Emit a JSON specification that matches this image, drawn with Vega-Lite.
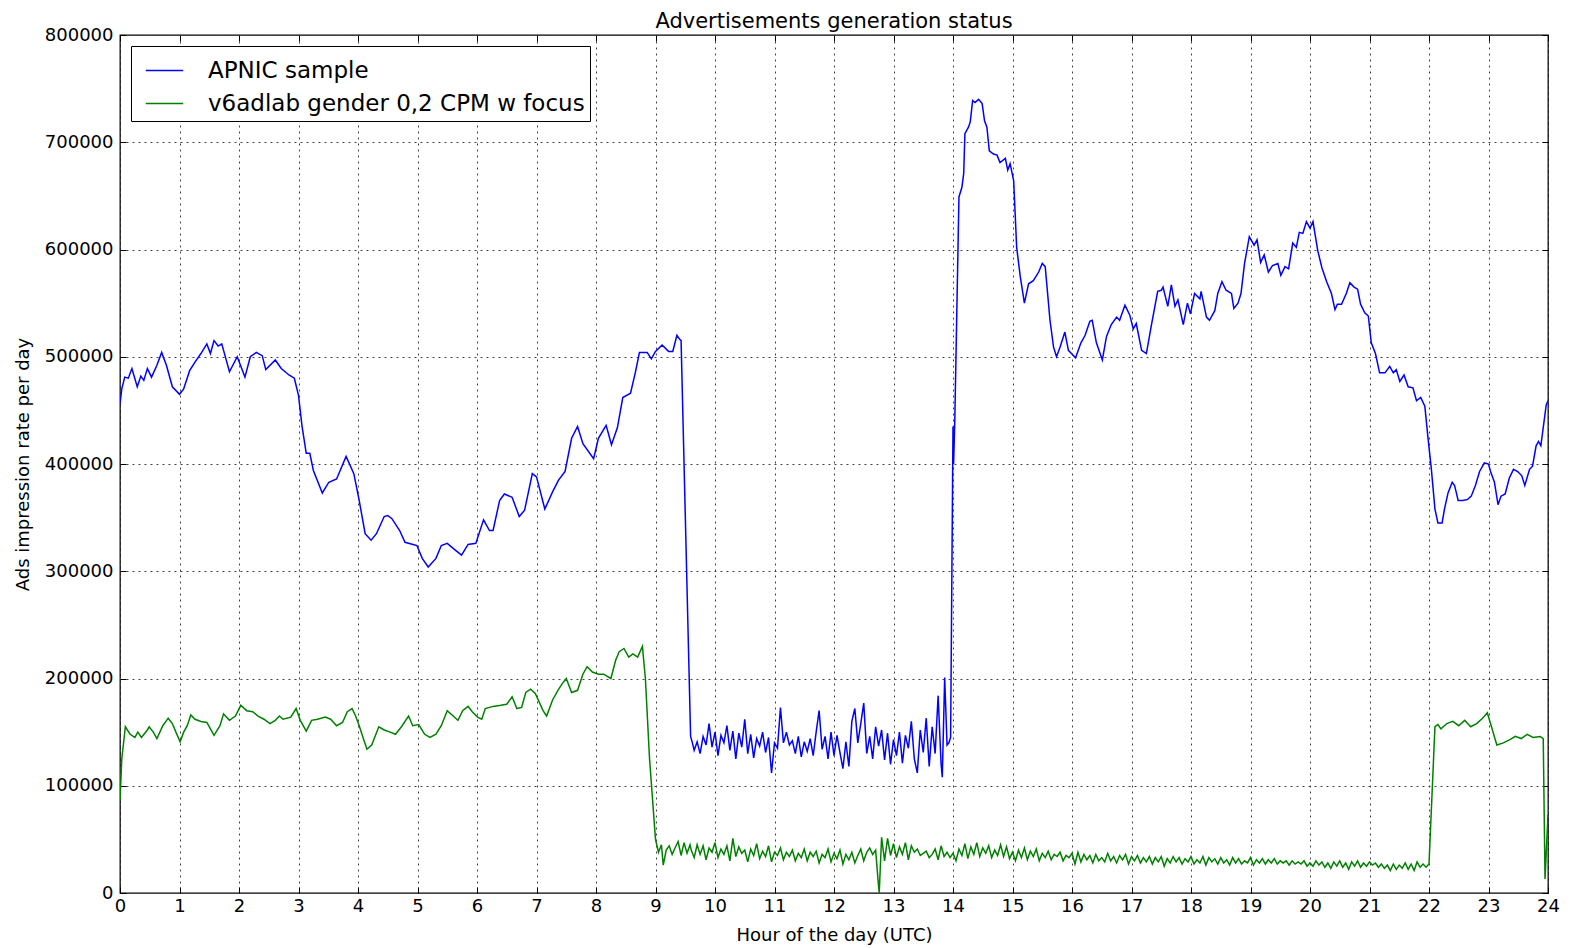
{
"$schema": "https://vega.github.io/schema/vega-lite/v6.json",
"autosize": {"type": "none"},
"width": 1428,
"height": 858,
"padding": {"left": 120, "top": 35, "right": 22, "bottom": 55},
"background": "white",
"title": {"text": "Advertisements generation status", "font": "DejaVu Sans", "fontSize": 21, "fontWeight": "normal", "color": "black", "offset": -6},
"config": {
  "font": "DejaVu Sans",
  "view": {"stroke": "black", "strokeWidth": 1.3},
  "axis": {"labelFont": "DejaVu Sans", "labelFontSize": 18, "labelColor": "black", "titleFont": "DejaVu Sans", "titleFontSize": 18, "titleFontWeight": "normal", "titleColor": "black", "domain": false, "grid": true, "gridColor": "#444444", "gridDash": [2, 4], "gridWidth": 1, "tickColor": "black", "tickSize": -6, "tickWidth": 1, "labelOverlap": false, "labelFlush": false}
},
"resolve": {"axis": {"x": "independent", "y": "independent"}},
"datasets": {
"blue": [
{"h":0.00,"v":456000},{"h":0.03,"v":470000},{"h":0.08,"v":481000},{"h":0.14,"v":480000},{"h":0.20,"v":489000},{"h":0.29,"v":472000},{"h":0.35,"v":482000},{"h":0.40,"v":478000},{"h":0.46,"v":489000},{"h":0.53,"v":481000},{"h":0.62,"v":492000},{"h":0.70,"v":504000},{"h":0.78,"v":492000},{"h":0.88,"v":472000},{"h":1.00,"v":465000},{"h":1.07,"v":470000},{"h":1.17,"v":487000},{"h":1.26,"v":495000},{"h":1.36,"v":503000},{"h":1.46,"v":512000},{"h":1.52,"v":503000},{"h":1.58,"v":515000},{"h":1.65,"v":510000},{"h":1.71,"v":512000},{"h":1.84,"v":486000},{"h":1.97,"v":500000},{"h":2.10,"v":481000},{"h":2.19,"v":500000},{"h":2.29,"v":504000},{"h":2.39,"v":501000},{"h":2.45,"v":488000},{"h":2.61,"v":497000},{"h":2.71,"v":489000},{"h":2.84,"v":483000},{"h":2.93,"v":480000},{"h":3.00,"v":464000},{"h":3.06,"v":435000},{"h":3.13,"v":410000},{"h":3.19,"v":410000},{"h":3.25,"v":394000},{"h":3.40,"v":373000},{"h":3.51,"v":383000},{"h":3.64,"v":386000},{"h":3.80,"v":407000},{"h":3.93,"v":391000},{"h":4.02,"v":366000},{"h":4.12,"v":335000},{"h":4.22,"v":329000},{"h":4.31,"v":335000},{"h":4.44,"v":351000},{"h":4.50,"v":352000},{"h":4.57,"v":349000},{"h":4.70,"v":338000},{"h":4.79,"v":327000},{"h":4.99,"v":324000},{"h":5.08,"v":312000},{"h":5.18,"v":304000},{"h":5.31,"v":312000},{"h":5.40,"v":324000},{"h":5.50,"v":326000},{"h":5.63,"v":320000},{"h":5.74,"v":315000},{"h":5.85,"v":325000},{"h":5.98,"v":326000},{"h":6.11,"v":348000},{"h":6.21,"v":338000},{"h":6.27,"v":338000},{"h":6.38,"v":366000},{"h":6.46,"v":372000},{"h":6.59,"v":369000},{"h":6.71,"v":351000},{"h":6.80,"v":357000},{"h":6.93,"v":391000},{"h":7.00,"v":388000},{"h":7.14,"v":358000},{"h":7.27,"v":374000},{"h":7.37,"v":385000},{"h":7.48,"v":393000},{"h":7.59,"v":424000},{"h":7.69,"v":435000},{"h":7.78,"v":419000},{"h":7.96,"v":405000},{"h":8.04,"v":424000},{"h":8.17,"v":436000},{"h":8.26,"v":418000},{"h":8.36,"v":434000},{"h":8.45,"v":462000},{"h":8.58,"v":466000},{"h":8.66,"v":485000},{"h":8.73,"v":504000},{"h":8.86,"v":504000},{"h":8.93,"v":498000},{"h":9.00,"v":505000},{"h":9.11,"v":511000},{"h":9.22,"v":505000},{"h":9.29,"v":505000},{"h":9.36,"v":520000},{"h":9.41,"v":516000},{"h":9.43,"v":515000},
{"h":9.59,"v":146000},{"h":9.62,"v":140000},{"h":9.65,"v":133000},{"h":9.70,"v":141000},{"h":9.75,"v":130000},{"h":9.80,"v":146000},{"h":9.85,"v":138000},{"h":9.90,"v":158000},{"h":9.95,"v":136000},{"h":10.00,"v":150000},{"h":10.05,"v":128000},{"h":10.10,"v":147000},{"h":10.15,"v":140000},{"h":10.20,"v":156000},{"h":10.25,"v":133000},{"h":10.30,"v":151000},{"h":10.35,"v":125000},{"h":10.40,"v":149000},{"h":10.45,"v":136000},{"h":10.50,"v":162000},{"h":10.55,"v":130000},{"h":10.60,"v":148000},{"h":10.65,"v":126000},{"h":10.70,"v":144000},{"h":10.75,"v":137000},{"h":10.80,"v":150000},{"h":10.85,"v":131000},{"h":10.90,"v":145000},{"h":10.95,"v":112000},{"h":11.00,"v":140000},{"h":11.05,"v":135000},{"h":11.10,"v":173000},{"h":11.15,"v":140000},{"h":11.20,"v":150000},{"h":11.25,"v":138000},{"h":11.30,"v":142000},{"h":11.35,"v":130000},{"h":11.40,"v":146000},{"h":11.45,"v":127000},{"h":11.50,"v":141000},{"h":11.55,"v":132000},{"h":11.60,"v":144000},{"h":11.65,"v":128000},{"h":11.70,"v":150000},{"h":11.75,"v":170000},{"h":11.80,"v":134000},{"h":11.85,"v":146000},{"h":11.90,"v":125000},{"h":11.95,"v":150000},{"h":12.00,"v":128000},{"h":12.05,"v":147000},{"h":12.10,"v":131000},{"h":12.15,"v":116000},{"h":12.20,"v":141000},{"h":12.25,"v":118000},{"h":12.30,"v":160000},{"h":12.35,"v":172000},{"h":12.40,"v":140000},{"h":12.45,"v":158000},{"h":12.50,"v":177000},{"h":12.55,"v":130000},{"h":12.60,"v":146000},{"h":12.65,"v":125000},{"h":12.70,"v":155000},{"h":12.75,"v":137000},{"h":12.80,"v":152000},{"h":12.85,"v":124000},{"h":12.90,"v":149000},{"h":12.95,"v":120000},{"h":13.00,"v":143000},{"h":13.05,"v":128000},{"h":13.10,"v":150000},{"h":13.15,"v":121000},{"h":13.20,"v":147000},{"h":13.25,"v":135000},{"h":13.30,"v":160000},{"h":13.35,"v":125000},{"h":13.40,"v":112000},{"h":13.45,"v":152000},{"h":13.50,"v":131000},{"h":13.55,"v":163000},{"h":13.60,"v":118000},{"h":13.65,"v":155000},{"h":13.70,"v":130000},{"h":13.75,"v":184000},{"h":13.80,"v":120000},{"h":13.82,"v":108000},{"h":13.86,"v":201000},{"h":13.90,"v":138000},{"h":13.93,"v":140000},{"h":13.96,"v":145000},
{"h":14.00,"v":435000},{"h":14.01,"v":400000},{"h":14.03,"v":440000},{"h":14.10,"v":649000},{"h":14.15,"v":658000},{"h":14.18,"v":671000},{"h":14.20,"v":708000},{"h":14.26,"v":714000},{"h":14.29,"v":719000},{"h":14.33,"v":739000},{"h":14.37,"v":737000},{"h":14.43,"v":740000},{"h":14.49,"v":736000},{"h":14.53,"v":720000},{"h":14.57,"v":714000},{"h":14.61,"v":692000},{"h":14.68,"v":689000},{"h":14.74,"v":688000},{"h":14.79,"v":681000},{"h":14.88,"v":685000},{"h":14.92,"v":674000},{"h":14.96,"v":680000},{"h":15.02,"v":664000},{"h":15.07,"v":602000},{"h":15.13,"v":575000},{"h":15.20,"v":550000},{"h":15.27,"v":568000},{"h":15.35,"v":571000},{"h":15.44,"v":579000},{"h":15.50,"v":587000},{"h":15.55,"v":584000},{"h":15.63,"v":534000},{"h":15.69,"v":509000},{"h":15.74,"v":500000},{"h":15.80,"v":509000},{"h":15.88,"v":523000},{"h":15.94,"v":506000},{"h":15.99,"v":503000},{"h":16.06,"v":499000},{"h":16.15,"v":513000},{"h":16.22,"v":520000},{"h":16.30,"v":533000},{"h":16.34,"v":534000},{"h":16.41,"v":513000},{"h":16.51,"v":497000},{"h":16.58,"v":519000},{"h":16.66,"v":530000},{"h":16.75,"v":537000},{"h":16.80,"v":534000},{"h":16.89,"v":548000},{"h":16.97,"v":539000},{"h":17.03,"v":526000},{"h":17.08,"v":531000},{"h":17.17,"v":506000},{"h":17.25,"v":503000},{"h":17.33,"v":528000},{"h":17.44,"v":561000},{"h":17.50,"v":562000},{"h":17.53,"v":565000},{"h":17.61,"v":547000},{"h":17.67,"v":567000},{"h":17.73,"v":547000},{"h":17.78,"v":553000},{"h":17.87,"v":530000},{"h":17.94,"v":550000},{"h":17.99,"v":540000},{"h":18.06,"v":559000},{"h":18.15,"v":554000},{"h":18.17,"v":561000},{"h":18.26,"v":537000},{"h":18.31,"v":534000},{"h":18.40,"v":543000},{"h":18.45,"v":559000},{"h":18.52,"v":570000},{"h":18.59,"v":562000},{"h":18.68,"v":559000},{"h":18.72,"v":545000},{"h":18.79,"v":550000},{"h":18.84,"v":559000},{"h":18.90,"v":587000},{"h":18.98,"v":612000},{"h":19.06,"v":604000},{"h":19.11,"v":609000},{"h":19.17,"v":588000},{"h":19.23,"v":595000},{"h":19.30,"v":579000},{"h":19.37,"v":585000},{"h":19.46,"v":587000},{"h":19.51,"v":576000},{"h":19.58,"v":584000},{"h":19.64,"v":582000},{"h":19.71,"v":606000},{"h":19.77,"v":602000},{"h":19.82,"v":616000},{"h":19.88,"v":615000},{"h":19.94,"v":626000},{"h":20.00,"v":620000},{"h":20.05,"v":626000},{"h":20.13,"v":599000},{"h":20.20,"v":583000},{"h":20.28,"v":570000},{"h":20.36,"v":559000},{"h":20.42,"v":544000},{"h":20.46,"v":549000},{"h":20.53,"v":549000},{"h":20.61,"v":559000},{"h":20.67,"v":569000},{"h":20.74,"v":565000},{"h":20.80,"v":563000},{"h":20.85,"v":549000},{"h":20.92,"v":541000},{"h":20.98,"v":538000},{"h":21.03,"v":513000},{"h":21.10,"v":503000},{"h":21.17,"v":485000},{"h":21.26,"v":485000},{"h":21.34,"v":491000},{"h":21.40,"v":485000},{"h":21.45,"v":488000},{"h":21.51,"v":477000},{"h":21.58,"v":483000},{"h":21.65,"v":472000},{"h":21.73,"v":471000},{"h":21.79,"v":459000},{"h":21.86,"v":462000},{"h":21.93,"v":454000},{"h":21.98,"v":426000},{"h":22.04,"v":395000},{"h":22.10,"v":358000},{"h":22.15,"v":345000},{"h":22.22,"v":345000},{"h":22.26,"v":358000},{"h":22.32,"v":373000},{"h":22.39,"v":383000},{"h":22.43,"v":380000},{"h":22.49,"v":366000},{"h":22.57,"v":366000},{"h":22.65,"v":367000},{"h":22.71,"v":370000},{"h":22.78,"v":380000},{"h":22.85,"v":393000},{"h":22.93,"v":401000},{"h":23.00,"v":400000},{"h":23.04,"v":392000},{"h":23.10,"v":383000},{"h":23.16,"v":362000},{"h":23.21,"v":370000},{"h":23.28,"v":372000},{"h":23.35,"v":387000},{"h":23.42,"v":395000},{"h":23.49,"v":393000},{"h":23.56,"v":389000},{"h":23.61,"v":380000},{"h":23.69,"v":395000},{"h":23.74,"v":398000},{"h":23.80,"v":417000},{"h":23.84,"v":421000},{"h":23.88,"v":417000},{"h":23.97,"v":455000},{"h":24.00,"v":459000}
],
"green": [
{"h":0.00,"v":86000},{"h":0.03,"v":125000},{"h":0.09,"v":155000},{"h":0.17,"v":148000},{"h":0.25,"v":145000},{"h":0.30,"v":150000},{"h":0.36,"v":145000},{"h":0.46,"v":152000},{"h":0.49,"v":155000},{"h":0.56,"v":150000},{"h":0.62,"v":144000},{"h":0.72,"v":156000},{"h":0.81,"v":163000},{"h":0.88,"v":158000},{"h":0.94,"v":150000},{"h":1.01,"v":141000},{"h":1.07,"v":150000},{"h":1.13,"v":156000},{"h":1.19,"v":166000},{"h":1.26,"v":162000},{"h":1.36,"v":160000},{"h":1.46,"v":159000},{"h":1.52,"v":153000},{"h":1.58,"v":147000},{"h":1.68,"v":156000},{"h":1.74,"v":167000},{"h":1.84,"v":161000},{"h":1.94,"v":165000},{"h":2.03,"v":175000},{"h":2.13,"v":170000},{"h":2.23,"v":169000},{"h":2.32,"v":165000},{"h":2.42,"v":162000},{"h":2.52,"v":158000},{"h":2.61,"v":161000},{"h":2.68,"v":165000},{"h":2.74,"v":162000},{"h":2.87,"v":164000},{"h":2.96,"v":172000},{"h":3.03,"v":161000},{"h":3.13,"v":151000},{"h":3.22,"v":161000},{"h":3.32,"v":162000},{"h":3.45,"v":164000},{"h":3.54,"v":162000},{"h":3.64,"v":156000},{"h":3.74,"v":159000},{"h":3.82,"v":169000},{"h":3.90,"v":172000},{"h":3.96,"v":165000},{"h":4.02,"v":156000},{"h":4.09,"v":144000},{"h":4.15,"v":134000},{"h":4.23,"v":138000},{"h":4.35,"v":155000},{"h":4.44,"v":152000},{"h":4.54,"v":150000},{"h":4.63,"v":148000},{"h":4.73,"v":155000},{"h":4.85,"v":165000},{"h":4.92,"v":156000},{"h":5.02,"v":157000},{"h":5.12,"v":148000},{"h":5.21,"v":145000},{"h":5.31,"v":148000},{"h":5.40,"v":156000},{"h":5.50,"v":170000},{"h":5.60,"v":165000},{"h":5.68,"v":161000},{"h":5.76,"v":170000},{"h":5.85,"v":174000},{"h":5.92,"v":169000},{"h":6.01,"v":164000},{"h":6.08,"v":162000},{"h":6.14,"v":172000},{"h":6.27,"v":174000},{"h":6.40,"v":175000},{"h":6.50,"v":176000},{"h":6.59,"v":183000},{"h":6.67,"v":172000},{"h":6.75,"v":173000},{"h":6.82,"v":187000},{"h":6.90,"v":190000},{"h":6.98,"v":186000},{"h":7.11,"v":170000},{"h":7.17,"v":165000},{"h":7.27,"v":180000},{"h":7.36,"v":189000},{"h":7.43,"v":195000},{"h":7.50,"v":200000},{"h":7.59,"v":187000},{"h":7.69,"v":189000},{"h":7.78,"v":204000},{"h":7.85,"v":211000},{"h":7.94,"v":206000},{"h":8.04,"v":204000},{"h":8.13,"v":204000},{"h":8.25,"v":200000},{"h":8.33,"v":217000},{"h":8.39,"v":225000},{"h":8.47,"v":228000},{"h":8.55,"v":220000},{"h":8.62,"v":223000},{"h":8.70,"v":220000},{"h":8.78,"v":230000},{"h":8.83,"v":200000},{"h":8.90,"v":125000},{"h":9.00,"v":50000},{"h":9.05,"v":38000},{"h":9.10,"v":45000},{"h":9.13,"v":26000},{"h":9.18,"v":40000},{"h":9.23,"v":44000},{"h":9.28,"v":36000},{"h":9.32,"v":41000},{"h":9.38,"v":48000},{"h":9.43,"v":35000},{"h":9.48,"v":47000},{"h":9.53,"v":37000},{"h":9.58,"v":45000},
{"h":9.60,"v":40000},{"h":9.65,"v":33000},{"h":9.70,"v":45000},{"h":9.75,"v":36000},{"h":9.80,"v":44000},{"h":9.85,"v":31000},{"h":9.90,"v":42000},{"h":9.95,"v":38000},{"h":10.00,"v":47000},{"h":10.05,"v":33000},{"h":10.10,"v":41000},{"h":10.15,"v":36000},{"h":10.20,"v":44000},{"h":10.25,"v":30000},{"h":10.30,"v":51000},{"h":10.35,"v":34000},{"h":10.40,"v":43000},{"h":10.45,"v":37000},{"h":10.50,"v":40000},{"h":10.55,"v":29000},{"h":10.60,"v":41000},{"h":10.65,"v":35000},{"h":10.70,"v":46000},{"h":10.75,"v":32000},{"h":10.80,"v":39000},{"h":10.85,"v":34000},{"h":10.90,"v":44000},{"h":10.95,"v":29000},{"h":11.00,"v":38000},{"h":11.05,"v":35000},{"h":11.10,"v":42000},{"h":11.15,"v":31000},{"h":11.20,"v":38000},{"h":11.25,"v":34000},{"h":11.30,"v":40000},{"h":11.35,"v":30000},{"h":11.40,"v":37000},{"h":11.45,"v":33000},{"h":11.50,"v":41000},{"h":11.55,"v":30000},{"h":11.60,"v":38000},{"h":11.65,"v":34000},{"h":11.70,"v":39000},{"h":11.75,"v":28000},{"h":11.80,"v":36000},{"h":11.85,"v":33000},{"h":11.90,"v":41000},{"h":11.95,"v":29000},{"h":12.00,"v":37000},{"h":12.05,"v":32000},{"h":12.10,"v":40000},{"h":12.15,"v":27000},{"h":12.20,"v":36000},{"h":12.25,"v":31000},{"h":12.30,"v":38000},{"h":12.35,"v":28000},{"h":12.40,"v":35000},{"h":12.45,"v":41000},{"h":12.50,"v":30000},{"h":12.55,"v":38000},{"h":12.60,"v":42000},{"h":12.65,"v":36000},{"h":12.70,"v":40000},{"h":12.74,"v":12000},{"h":12.76,"v":0},{"h":12.80,"v":52000},{"h":12.85,"v":30000},{"h":12.90,"v":51000},{"h":12.95,"v":35000},{"h":13.00,"v":46000},{"h":13.05,"v":33000},{"h":13.10,"v":43000},{"h":13.15,"v":36000},{"h":13.20,"v":47000},{"h":13.25,"v":31000},{"h":13.30,"v":44000},{"h":13.35,"v":38000},{"h":13.40,"v":41000},{"h":13.45,"v":35000},{"h":13.50,"v":37000},{"h":13.55,"v":39000},{"h":13.60,"v":33000},{"h":13.65,"v":36000},{"h":13.70,"v":41000},{"h":13.75,"v":31000},{"h":13.80,"v":44000},{"h":13.85,"v":34000},{"h":13.90,"v":38000},{"h":13.95,"v":33000},{"h":14.00,"v":37000},{"h":14.05,"v":30000},{"h":14.10,"v":41000},{"h":14.15,"v":35000},{"h":14.20,"v":46000},{"h":14.25,"v":32000},{"h":14.30,"v":43000},{"h":14.35,"v":36000},{"h":14.40,"v":47000},{"h":14.45,"v":34000},{"h":14.50,"v":42000},{"h":14.55,"v":37000},{"h":14.60,"v":44000},{"h":14.65,"v":33000},{"h":14.70,"v":40000},{"h":14.75,"v":35000},{"h":14.80,"v":45000},{"h":14.85,"v":34000},{"h":14.90,"v":43000},{"h":14.95,"v":32000},{"h":15.00,"v":38000},{"h":15.05,"v":30000},{"h":15.10,"v":40000},{"h":15.15,"v":33000},{"h":15.20,"v":42000},{"h":15.25,"v":31000},{"h":15.30,"v":39000},{"h":15.35,"v":34000},{"h":15.40,"v":41000},{"h":15.45,"v":30000},{"h":15.50,"v":37000},{"h":15.55,"v":33000},{"h":15.60,"v":39000},{"h":15.65,"v":31000},{"h":15.70,"v":36000},{"h":15.75,"v":34000},{"h":15.80,"v":38000},{"h":15.85,"v":30000},{"h":15.90,"v":35000},{"h":15.95,"v":33000},{"h":16.00,"v":37000},{"h":16.05,"v":27000},{"h":16.10,"v":38000},{"h":16.15,"v":29000},{"h":16.20,"v":36000},{"h":16.25,"v":31000},{"h":16.30,"v":35000},{"h":16.35,"v":28000},{"h":16.40,"v":36000},{"h":16.45,"v":30000},{"h":16.50,"v":33000},{"h":16.55,"v":29000},{"h":16.60,"v":37000},{"h":16.65,"v":30000},{"h":16.70,"v":34000},{"h":16.75,"v":28000},{"h":16.80,"v":35000},{"h":16.85,"v":31000},{"h":16.90,"v":36000},{"h":16.95,"v":27000},{"h":17.00,"v":34000},{"h":17.05,"v":30000},{"h":17.10,"v":35000},{"h":17.15,"v":28000},{"h":17.20,"v":33000},{"h":17.25,"v":29000},{"h":17.30,"v":34000},{"h":17.35,"v":27000},{"h":17.40,"v":33000},{"h":17.45,"v":29000},{"h":17.50,"v":34000},{"h":17.55,"v":25000},{"h":17.60,"v":32000},{"h":17.65,"v":28000},{"h":17.70,"v":34000},{"h":17.75,"v":29000},{"h":17.80,"v":33000},{"h":17.85,"v":27000},{"h":17.90,"v":32000},{"h":17.95,"v":29000},{"h":18.00,"v":34000},{"h":18.05,"v":27000},{"h":18.10,"v":31000},{"h":18.15,"v":28000},{"h":18.20,"v":34000},{"h":18.25,"v":26000},{"h":18.30,"v":33000},{"h":18.35,"v":29000},{"h":18.40,"v":32000},{"h":18.45,"v":27000},{"h":18.50,"v":33000},{"h":18.55,"v":28000},{"h":18.60,"v":31000},{"h":18.65,"v":26000},{"h":18.70,"v":33000},{"h":18.75,"v":28000},{"h":18.80,"v":32000},{"h":18.85,"v":27000},{"h":18.90,"v":30000},{"h":18.95,"v":28000},{"h":19.00,"v":33000},{"h":19.05,"v":26000},{"h":19.10,"v":31000},{"h":19.15,"v":28000},{"h":19.20,"v":32000},{"h":19.25,"v":27000},{"h":19.30,"v":31000},{"h":19.35,"v":28000},{"h":19.40,"v":32000},{"h":19.45,"v":27000},{"h":19.50,"v":30000},{"h":19.55,"v":28000},{"h":19.60,"v":30000},{"h":19.65,"v":26000},{"h":19.70,"v":30000},{"h":19.75,"v":27000},{"h":19.80,"v":29000},{"h":19.85,"v":27000},{"h":19.90,"v":30000},{"h":19.95,"v":25000},{"h":20.00,"v":28000},{"h":20.05,"v":25000},{"h":20.10,"v":30000},{"h":20.15,"v":26000},{"h":20.20,"v":29000},{"h":20.25,"v":24000},{"h":20.30,"v":28000},{"h":20.35,"v":23000},{"h":20.40,"v":29000},{"h":20.45,"v":25000},{"h":20.50,"v":30000},{"h":20.55,"v":24000},{"h":20.60,"v":28000},{"h":20.65,"v":22000},{"h":20.70,"v":29000},{"h":20.75,"v":25000},{"h":20.80,"v":30000},{"h":20.85,"v":24000},{"h":20.90,"v":28000},{"h":20.95,"v":25000},{"h":21.00,"v":29000},{"h":21.05,"v":26000},{"h":21.10,"v":28000},{"h":21.15,"v":24000},{"h":21.20,"v":27000},{"h":21.25,"v":23000},{"h":21.30,"v":26000},{"h":21.35,"v":21000},{"h":21.40,"v":27000},{"h":21.45,"v":22000},{"h":21.50,"v":26000},{"h":21.55,"v":23000},{"h":21.60,"v":28000},{"h":21.65,"v":22000},{"h":21.70,"v":27000},{"h":21.75,"v":21000},{"h":21.80,"v":29000},{"h":21.85,"v":24000},{"h":21.90,"v":27000},{"h":21.95,"v":24000},{"h":22.00,"v":27000},
{"h":22.10,"v":155000},{"h":22.15,"v":157000},{"h":22.20,"v":153000},{"h":22.30,"v":158000},{"h":22.40,"v":160000},{"h":22.50,"v":156000},{"h":22.60,"v":161000},{"h":22.70,"v":155000},{"h":22.80,"v":158000},{"h":22.90,"v":163000},{"h":22.98,"v":168000},{"h":23.05,"v":155000},{"h":23.14,"v":138000},{"h":23.25,"v":140000},{"h":23.36,"v":143000},{"h":23.45,"v":146000},{"h":23.55,"v":144000},{"h":23.65,"v":148000},{"h":23.75,"v":145000},{"h":23.87,"v":146000},{"h":23.92,"v":144000},{"h":23.95,"v":13000},{"h":24.00,"v":73000}
]
},
"layer": [
  {
    "data": {"name": "blue"},
    "mark": {"type": "line", "strokeWidth": 1.5, "clip": true},
    "encoding": {
      "x": {"field": "h", "type": "quantitative", "scale": {"domain": [0, 24], "nice": false, "zero": false}, "axis": {"values": [0,1,2,3,4,5,6,7,8,9,10,11,12,13,14,15,16,17,18,19,20,21,22,23,24], "format": "d", "title": "Hour of the day (UTC)", "labelPadding": 10, "titlePadding": 11}},
      "y": {"field": "v", "type": "quantitative", "scale": {"domain": [0, 800000], "nice": false}, "axis": {"values": [0,100000,200000,300000,400000,500000,600000,700000,800000], "format": "d", "title": "Ads impression rate per day", "labelPadding": 13, "titlePadding": 12}},
      "color": {"datum": "APNIC sample", "type": "nominal", "scale": {"domain": ["APNIC sample", "v6adlab gender 0,2 CPM w focus"], "range": ["#0000ff", "#008000"]},
        "legend": {"title": null, "orient": "top-left", "offset": 11, "strokeColor": "black", "fillColor": "white", "padding": 5, "cornerRadius": 0, "symbolType": "stroke", "symbolSize": 1400, "symbolStrokeWidth": 1.5, "symbolOffset": 9, "labelFont": "DejaVu Sans", "labelFontSize": 23, "labelColor": "black", "labelOffset": 24, "rowPadding": 1, "labelLimit": 600}}
    }
  },
  {
    "data": {"name": "green"},
    "mark": {"type": "line", "strokeWidth": 1.5, "clip": true},
    "encoding": {
      "x": {"field": "h", "type": "quantitative", "axis": {"orient": "top", "values": [0,1,2,3,4,5,6,7,8,9,10,11,12,13,14,15,16,17,18,19,20,21,22,23,24], "labels": false, "title": null, "grid": false}},
      "y": {"field": "v", "type": "quantitative", "axis": {"orient": "right", "values": [0,100000,200000,300000,400000,500000,600000,700000,800000], "labels": false, "title": null, "grid": false}},
      "color": {"datum": "v6adlab gender 0,2 CPM w focus", "type": "nominal"}
    }
  }
]
}
